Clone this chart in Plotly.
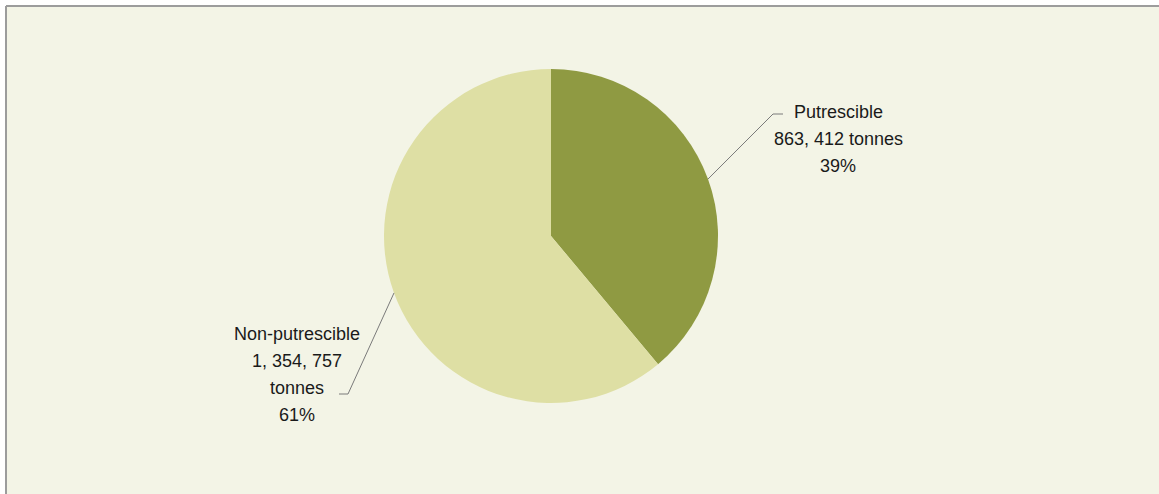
import math
import plotly.graph_objects as go

categories = ["Putrescible", "Non-putrescible"]
values = [863412, 1354757]
label_lines = [["Putrescible", "863, 412 tonnes", "39%"],
               ["Non-putrescible", "1, 354, 757", "tonnes", "61%"]]
colors = ["#8F9A42", "#DEDFA4"]

W, H = 1159, 494
cx, cy, r = 551, 236, 167  # pie centre / radius in pixels

def px(x):
    return x / W

def py(y):
    return 1 - y / H

fig = go.Figure(go.Pie(
    labels=categories, values=values, sort=False, direction="clockwise",
    rotation=0, marker=dict(colors=colors, line=dict(width=0)),
    textinfo="none", hoverinfo="label+value+percent", showlegend=False,
    domain=dict(x=[px(cx - r), px(cx + r)], y=[py(cy + r), py(cy - r)]),
))

shapes = [
    dict(type="rect", xref="paper", yref="paper", layer="below",
         x0=px(6), x1=1, y0=0, y1=py(6),
         fillcolor="#F3F4E6", line=dict(width=0)),
    dict(type="line", xref="paper", yref="paper", layer="below",
         x0=px(6), x1=1, y0=py(6), y1=py(6), line=dict(color="#9C9C9C", width=2)),
    dict(type="line", xref="paper", yref="paper", layer="below",
         x0=px(6), x1=px(6), y0=0, y1=py(6), line=dict(color="#9C9C9C", width=2)),
]

total = sum(values)
cum = 0
mids = []
for v in values:
    mids.append((cum + v / 2) / total * 2 * math.pi)
    cum += v

# leader line elbows/ends and label first-line positions in pixels
elbows = [((773, 114), (783, 114)), ((348, 394), (339, 394))]
label_pos = [(838, 112), (297, 334)]
line_gap = 27

for ang, (e1, e2) in zip(mids, elbows):
    sx = cx + r * math.sin(ang)
    sy = cy - r * math.cos(ang)
    path = f"M {px(sx)},{py(sy)} L {px(e1[0])},{py(e1[1])} L {px(e2[0])},{py(e2[1])}"
    shapes.append(dict(type="path", xref="paper", yref="paper", path=path,
                       line=dict(color="#7A7A7A", width=1)))

annotations = []
for lines, (lx, ly) in zip(label_lines, label_pos):
    for i, txt in enumerate(lines):
        annotations.append(dict(text=txt, x=px(lx), y=py(ly + i * line_gap),
                                xref="paper", yref="paper",
                                xanchor="center", yanchor="middle", showarrow=False,
                                font=dict(family="Liberation Sans Narrow, Liberation Sans, Arial, sans-serif",
                                          size=18, color="#1A1A1A")))

fig.update_layout(width=W, height=H, margin=dict(l=0, r=0, t=0, b=0),
                  paper_bgcolor="white", plot_bgcolor="white",
                  shapes=shapes, annotations=annotations)
fig.write_html("out.html", config={"displayModeBar": False},
               post_script="document.body.style.margin='0';document.body.style.overflow='hidden';")
